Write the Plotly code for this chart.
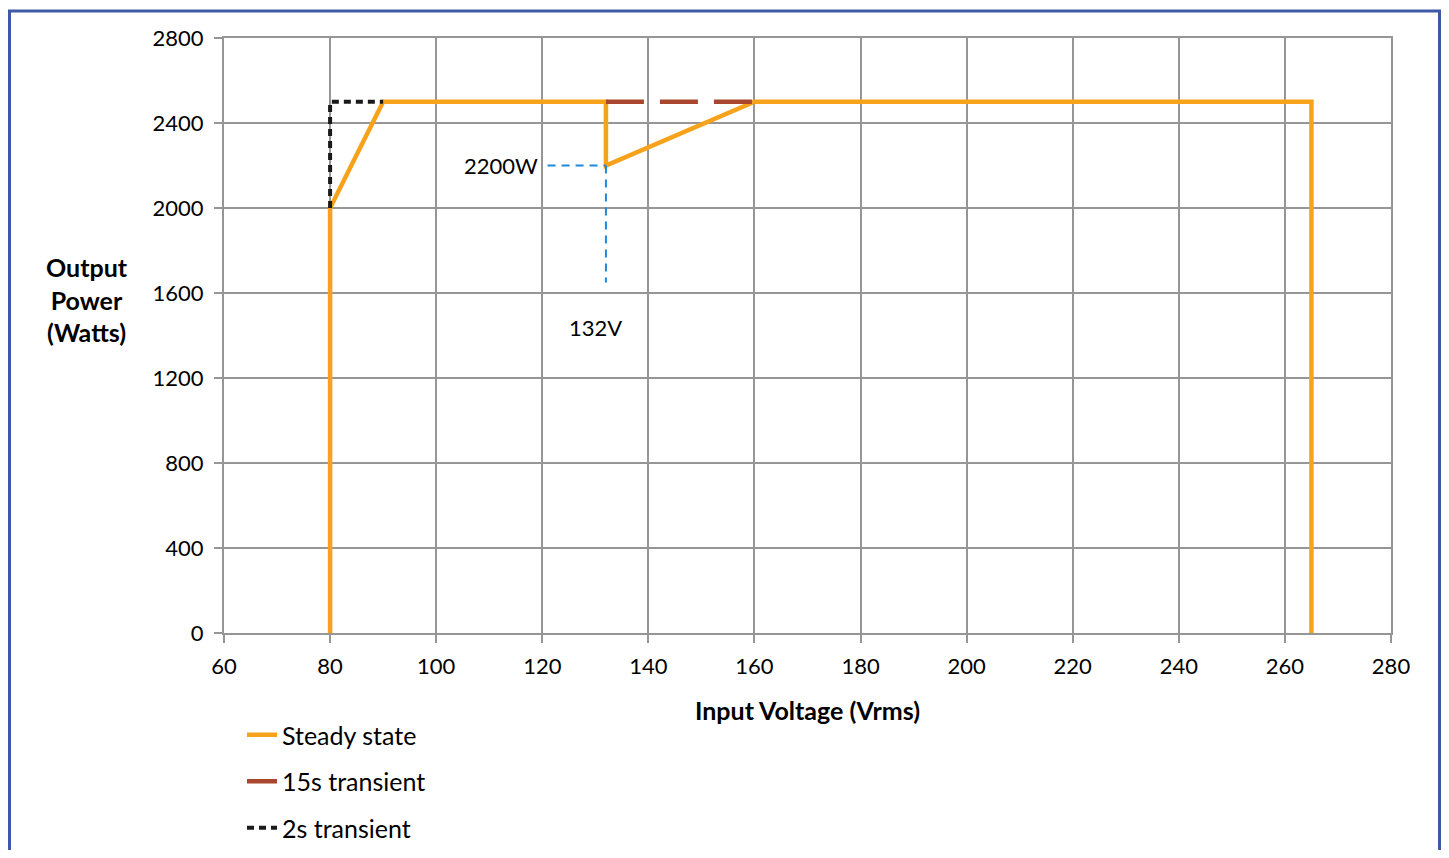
import plotly.graph_objects as go

# Data
steady_v = [80, 80, 90, 132, 132, 160, 265, 265]
steady_p = [0, 2000, 2500, 2500, 2200, 2500, 2500, 0]
t15_v = [132, 160]
t15_p = [2500, 2500]
t2_v = [80, 80, 90]
t2_p = [2000, 2500, 2500]
guide_h_v = [121, 132]
guide_h_p = [2200, 2200]
guide_v_v = [132, 132]
guide_v_p = [2200, 1650]
x_ticks = list(range(60, 281, 20))
y_ticks = list(range(0, 2801, 400))

FONT = "Lato"
OFF = 8  # page body margin
W, H = 1433, 842
L, R, T, B = 224 - OFF, 1391 - OFF, 38 - OFF, 633 - OFF

fig = go.Figure()
fig.add_trace(go.Scatter(x=steady_v, y=steady_p, mode="lines", name="Steady state",
                         line=dict(color="#F7A21B", width=4.5), legendgroup="a"))
fig.add_trace(go.Scatter(x=t15_v, y=t15_p, mode="lines", name="15s transient",
                         line=dict(color="#A8472D", width=4.5, dash="38px,16px"), legendgroup="b"))
fig.add_trace(go.Scatter(x=t2_v, y=t2_p, mode="lines", name="2s transient",
                         line=dict(color="#1A1A1A", width=4, dash="7px,5px"), legendgroup="c"))
fig.add_trace(go.Scatter(x=guide_h_v, y=guide_h_p, mode="lines", showlegend=False,
                         line=dict(color="#1E88DA", width=2, dash="8px,6px")))
fig.add_trace(go.Scatter(x=guide_v_v, y=guide_v_p, mode="lines", showlegend=False,
                         line=dict(color="#1E88DA", width=2, dash="8px,6px")))

def px_x(p):
    # p is a reference (page) pixel
    return (p - OFF - L) / (R - L)

def px_y(p):
    return (B - (p - OFF)) / (B - T)

fig.update_layout(
    width=W, height=H,
    margin=dict(l=L, r=W - R, t=T, b=H - B, autoexpand=False),
    paper_bgcolor="white", plot_bgcolor="white",
    font=dict(family=FONT, size=22, color="#000000"),
    showlegend=True,
    legend=dict(x=px_x(242), y=px_y(712), xanchor="left", yanchor="top",
                traceorder="grouped", tracegroupgap=11,
                font=dict(family=FONT, size=25), bgcolor="rgba(0,0,0,0)"),
    xaxis=dict(range=[60, 280], tickvals=x_ticks, showgrid=True, gridcolor="#969696",
               gridwidth=2, showline=True, linecolor="#969696", linewidth=2, mirror=True,
               ticks="outside", ticklen=8, tickwidth=2, tickcolor="#969696",
               ticklabelstandoff=5, zeroline=False, fixedrange=True, automargin=False),
    yaxis=dict(range=[0, 2800], tickvals=y_ticks, showgrid=True, gridcolor="#969696",
               gridwidth=2, showline=True, linecolor="#969696", linewidth=2, mirror=True,
               ticks="outside", ticklen=8, tickwidth=2, tickcolor="#969696",
               ticklabelstandoff=6, zeroline=False, fixedrange=True, automargin=False),
    shapes=[dict(type="rect", xref="paper", yref="paper",
                 x0=px_x(9.5), x1=px_x(1439.5), y0=px_y(880), y1=px_y(11),
                 line=dict(color="#3F58A8", width=3), layer="below")],
    annotations=[
        dict(text="<b>Output<br>Power<br>(Watts)</b>", xref="paper", yref="paper",
             x=px_x(87), y=px_y(299), showarrow=False, align="center",
             xanchor="center", yanchor="middle", font=dict(size=25)),
        dict(text="<b>Input Voltage (Vrms)</b>", xref="paper", yref="paper",
             x=px_x(807), y=px_y(710), showarrow=False, xanchor="center",
             yanchor="middle", font=dict(size=25)),
        dict(text="2200W", x=119.5, y=2200, showarrow=False, xanchor="right",
             yanchor="middle", font=dict(size=22)),
        dict(text="132V", x=130, y=1440, showarrow=False, xanchor="center",
             yanchor="middle", font=dict(size=22)),
    ],
)

fig.write_html("out.html")
